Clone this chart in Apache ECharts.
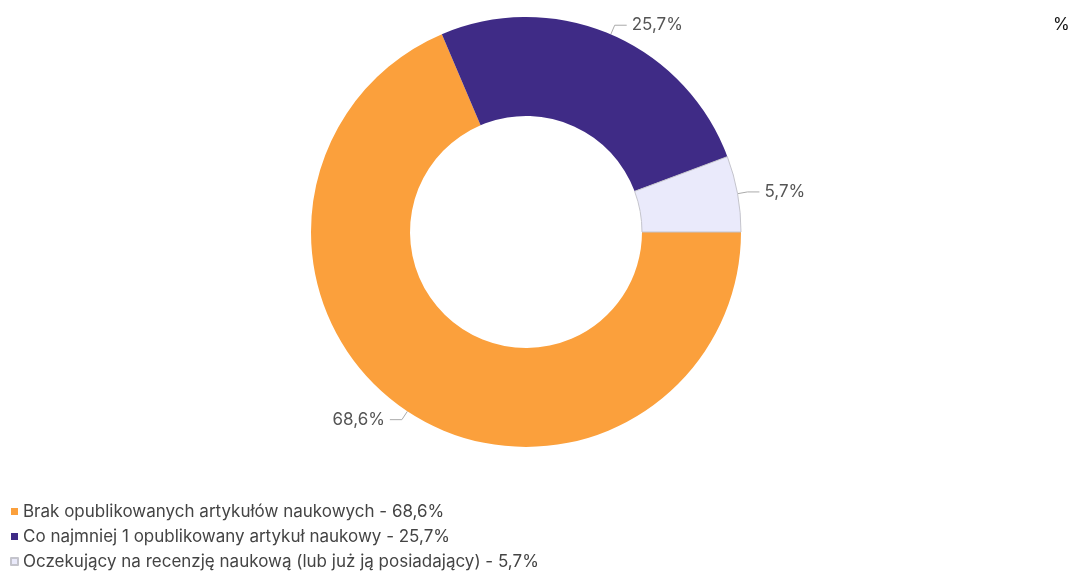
<!DOCTYPE html>
<html>
<head>
<meta charset="utf-8">
<script src="https://cdn.jsdelivr.net/npm/echarts@6/dist/echarts.min.js"></script>
<style>
  html, body { margin: 0; padding: 0; background: #fff; }
  #chart { width: 1070px; height: 575px; }
</style>
</head>
<body>
<div id="chart"></div>
<script>
const categories = [
  "Brak opublikowanych artykułów naukowych",
  "Co najmniej 1 opublikowany artykuł naukowy",
  "Oczekujący na recenzję naukową (lub już ją posiadający)"
];
const values = [68.6, 25.7, 5.7];
const colors = ["#fba03c", "#3f2b86", "#eaeafb"];

const fmt = (v) => v.toFixed(1).replace(".", ",") + "%";

const chart = echarts.init(document.getElementById("chart"));
chart.setOption({
  animation: false,
  textStyle: { fontFamily: "Inter" },
  title: {
    text: "%",
    left: 1053,
    top: 16,
    padding: 0,
    textStyle: { fontFamily: "Inter", fontSize: 17, fontWeight: "normal", color: "#111" }
  },
  legend: {
    orient: "vertical",
    left: 10,
    top: 503,
    height: 72,
    padding: 0,
    itemWidth: 7,
    itemHeight: 7,
    itemGap: 8,
    icon: "rect",
    textStyle: { fontFamily: "Inter", fontSize: 17, color: "#444" },
    formatter: (name) => name + " - " + fmt(values[categories.indexOf(name)])
  },
  series: [{
    type: "pie",
    center: [526, 232],
    radius: [116, 215],
    startAngle: 0,
    clockwise: true,
    label: {
      show: true,
      fontFamily: "Inter",
      fontSize: 17,
      color: "#555",
      formatter: (p) => fmt(p.value)
    },
    labelLine: {
      length: 10,
      length2: 12,
      lineStyle: { color: "#aaa", width: 1 }
    },
    data: categories.map((name, i) => ({
      name: name,
      value: values[i],
      itemStyle: i === 2
        ? { color: colors[i], borderColor: "#c4c4cc", borderWidth: 1 }
        : { color: colors[i] }
    }))
  }]
});
</script>
</body>
</html>
